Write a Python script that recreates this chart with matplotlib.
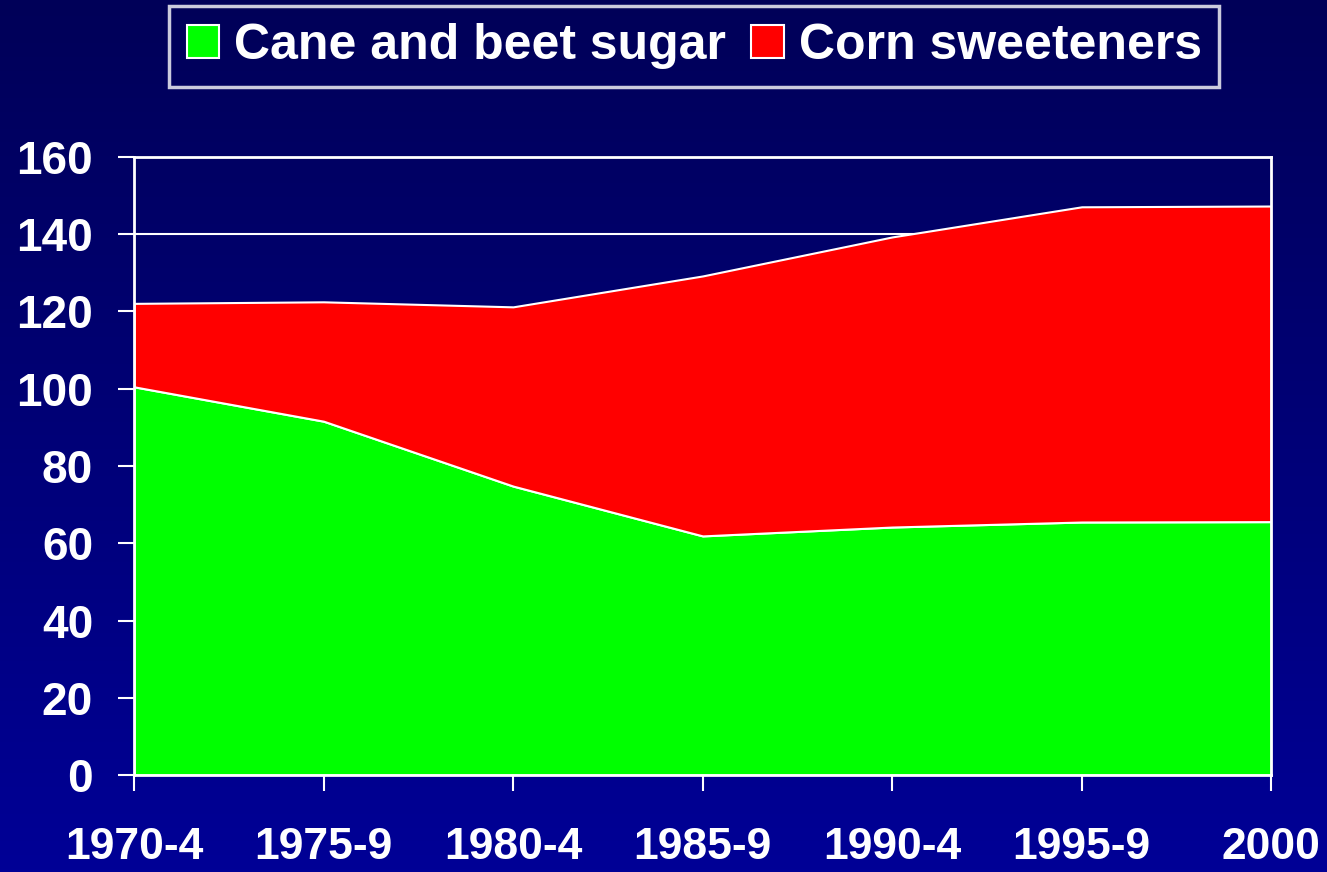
import numpy as np
import matplotlib.pyplot as plt
from matplotlib import font_manager

periods = ["1970-4", "1975-9", "1980-4", "1985-9", "1990-4", "1995-9", "2000"]
cane_beet = [100.5, 91.6, 74.8, 61.9, 64.2, 65.5, 65.6]
corn = [21.6, 30.9, 46.4, 67.3, 75.1, 81.6, 81.7]  # stacked on top of cane/beet
yticks = [0, 20, 40, 60, 80, 100, 120, 140, 160]

names = {f.name for f in font_manager.fontManager.ttflist}
narrow = "Liberation Sans Narrow" if "Liberation Sans Narrow" in names else "Liberation Sans"

plt.rcParams['font.family'] = ['Liberation Sans', 'DejaVu Sans']
plt.rcParams['font.weight'] = 'bold'

fig = plt.figure(figsize=(13.27, 8.72), dpi=100)

# gradient background
bg = fig.add_axes([0, 0, 1, 1], zorder=-10)
grad = np.linspace(0, 1, 256).reshape(-1, 1)
top = np.array([0, 0, 88]) / 255
bot = np.array([0, 0, 150]) / 255
img = top + (bot - top) * grad[:, :, None]
bg.imshow(img, aspect='auto', extent=[0, 1, 0, 1])
bg.axis('off')

ax = fig.add_axes([0.101, 0.1112, 0.857, 0.7088])
ax.patch.set_alpha(0)
x = np.arange(len(periods))
ax.stackplot(x, cane_beet, corn, colors=['#00ff00', '#ff0000'],
             edgecolor='white', linewidth=1.5,
             labels=['Cane and beet sugar', 'Corn sweeteners'], zorder=2)

ax.set_xlim(0, len(periods) - 1)
ax.set_ylim(0, 160)
ax.set_yticks(yticks)
ax.set_xticks(x)
ax.set_xticklabels(periods, fontsize=32, family=[narrow, 'DejaVu Sans'], fontweight='bold')
ax.set_yticklabels([str(v) for v in yticks], fontsize=33, fontweight='bold')
ax.yaxis.grid(True, color='white', linewidth=1.5, zorder=1)
ax.set_axisbelow(True)
for s in ax.spines.values():
    s.set_color('white')
    s.set_linewidth(2)
    s.set_zorder(3)
ax.tick_params(axis='y', colors='white', length=11.5, width=1.5, pad=18)
ax.tick_params(axis='x', colors='white', length=11.5, width=1.5, pad=26)

leg = fig.legend(loc='center', bbox_to_anchor=(0.523, 0.947), ncol=2,
                 fontsize=36, frameon=True, fancybox=False,
                 handlelength=0.65, handleheight=0.65, handletextpad=0.3,
                 columnspacing=0.5, borderpad=0.35, borderaxespad=0)
leg.get_frame().set_edgecolor('white')
leg.get_frame().set_facecolor('none')
leg.get_frame().set_linewidth(2.5)
for t in leg.get_texts():
    t.set_color('white')
    t.set_fontweight('bold')

fig.savefig('out.png', dpi=100)
